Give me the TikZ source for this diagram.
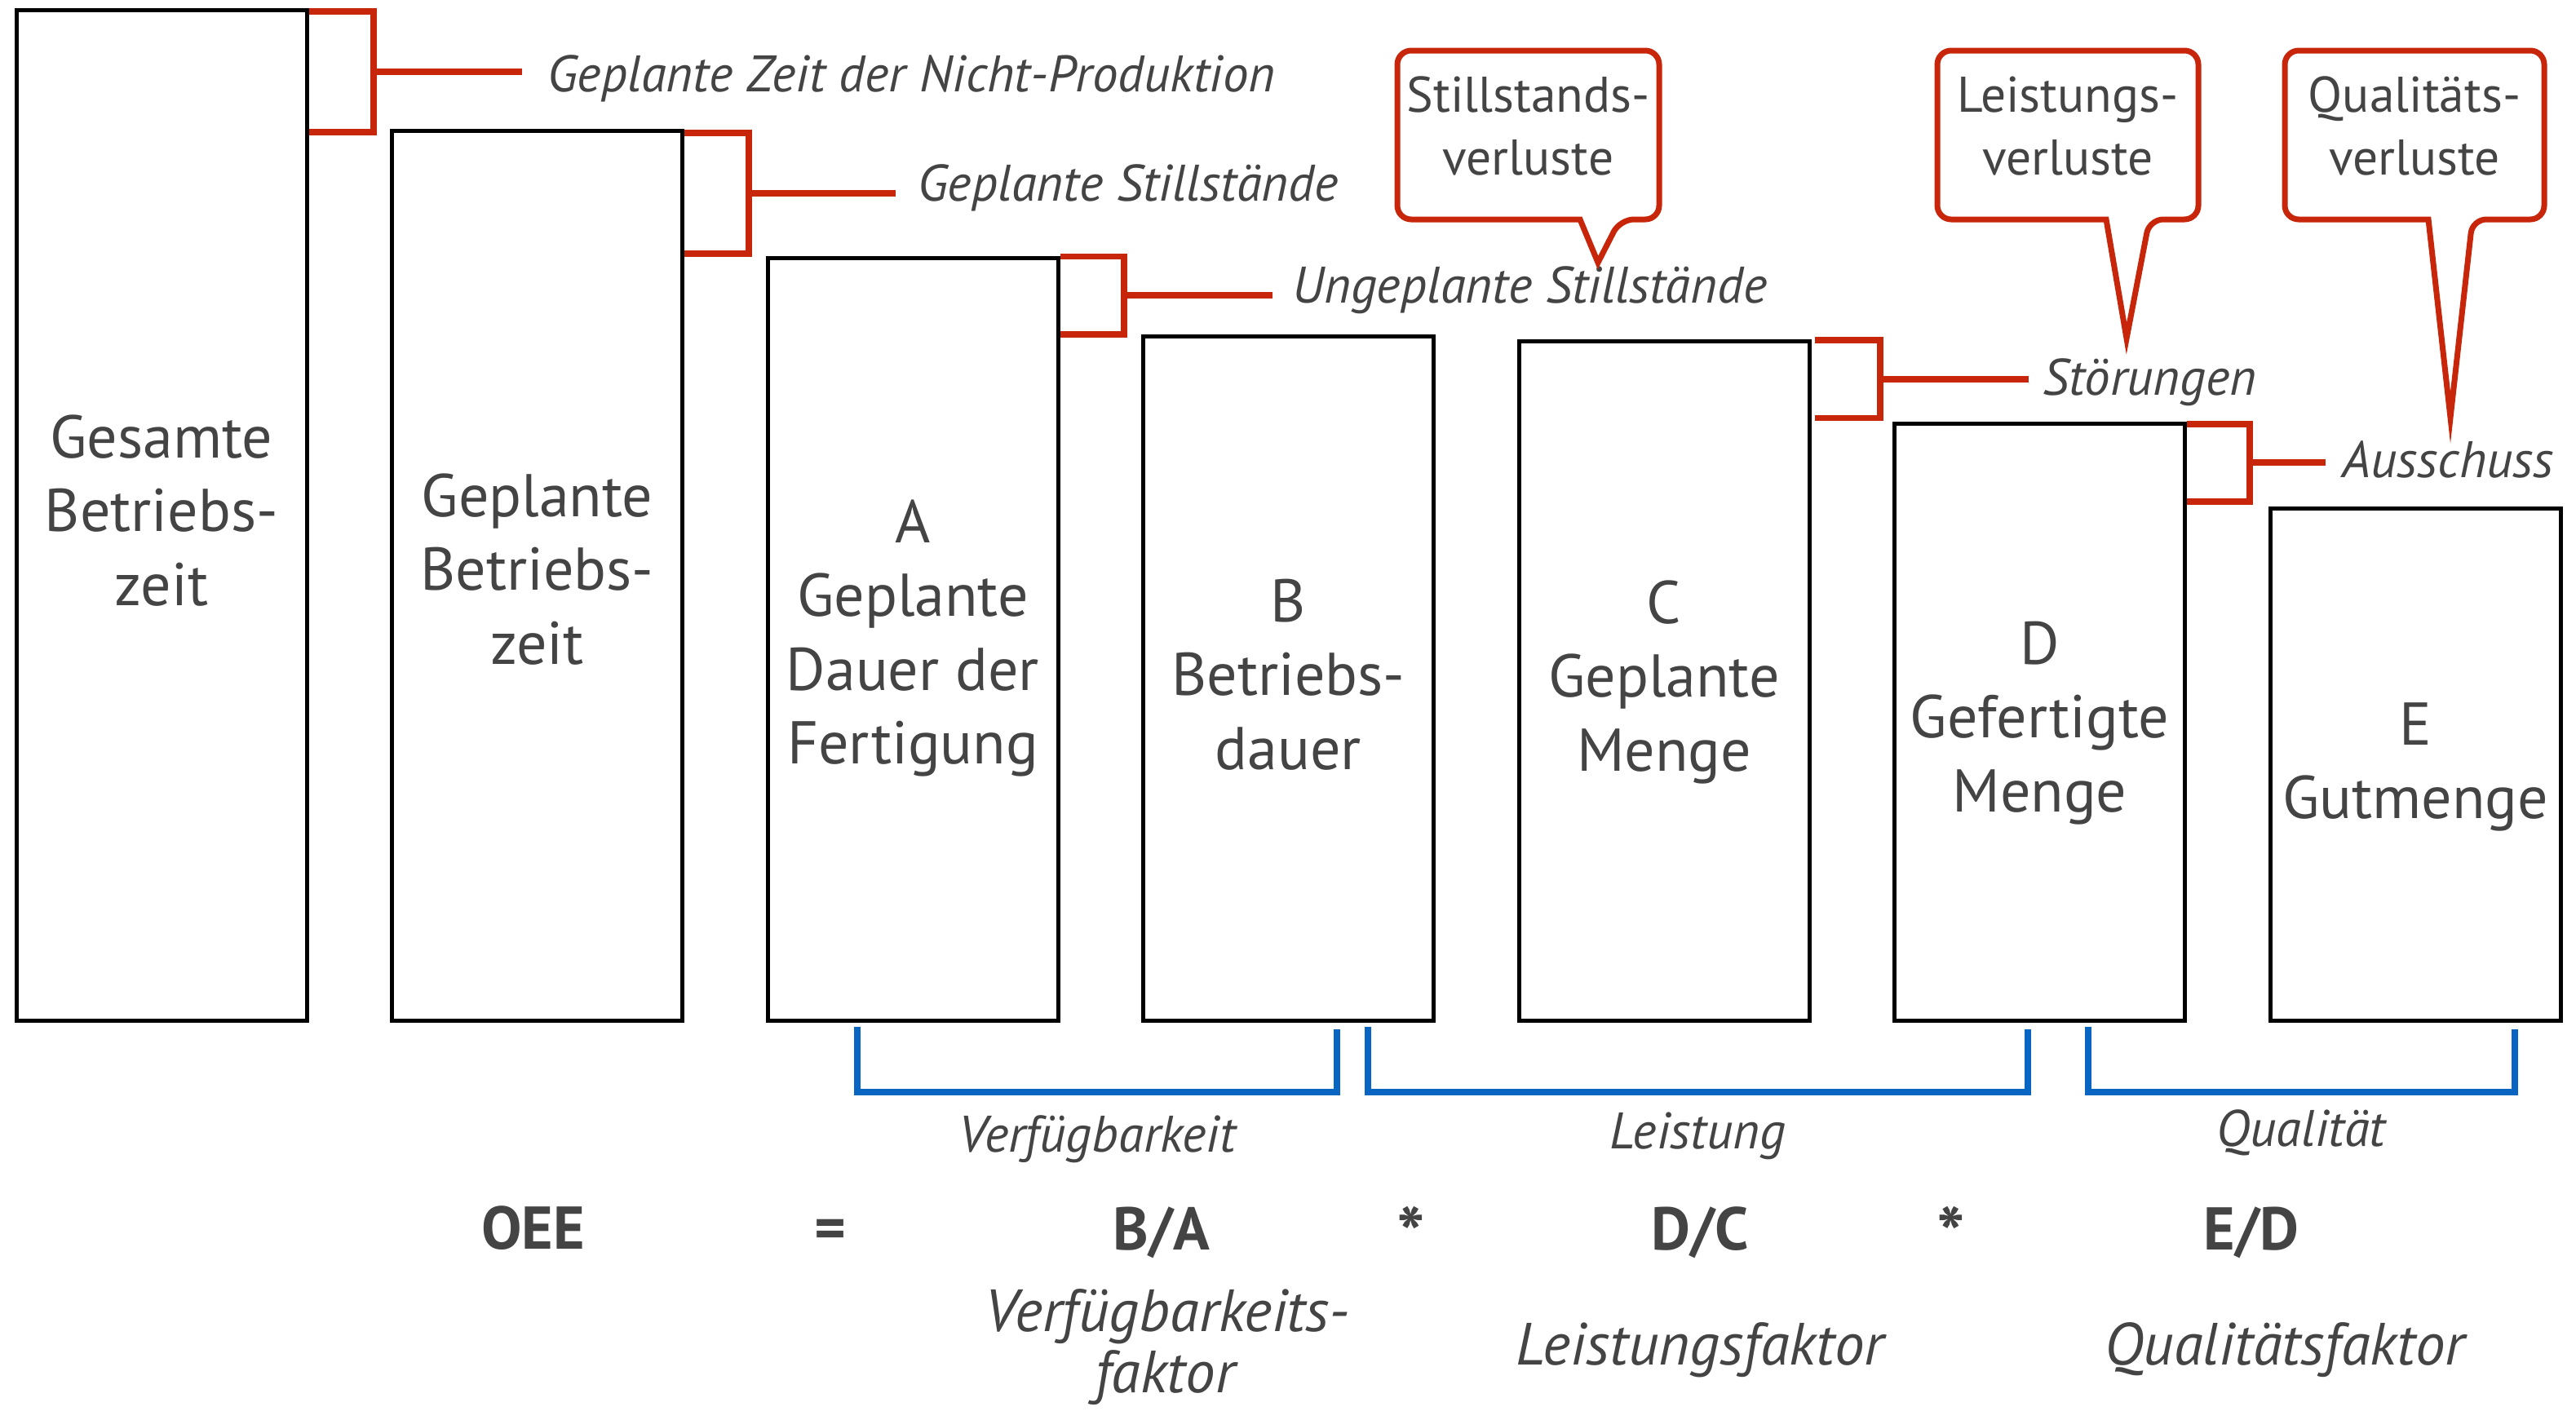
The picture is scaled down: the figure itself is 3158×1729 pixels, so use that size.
\documentclass[tikz,border=0pt]{standalone}
\usepackage{fontspec}
\setmainfont{PT Sans}
\usetikzlibrary{calc}

\definecolor{ink}{RGB}{68,68,68}
\definecolor{lossred}{RGB}{200,38,10}
\definecolor{factorblue}{RGB}{8,102,194}

\newcommand{\fsz}[2]{\fontsize{#1pt}{#2pt}\selectfont}
\newcommand{\lines}[1]{\begin{tabular}[t]{@{}c@{}}#1\end{tabular}}

\begin{document}
\begin{tikzpicture}[x=1pt,y=-1pt,
  bar/.style={draw=black, line width=5pt, fill=white, rectangle,
    anchor=north west, inner sep=0pt, outer sep=0pt, minimum width=356pt},
  barlabel/.style={text=ink, anchor=base, inner sep=0pt, font=\fsz{74}{90.6}},
  lossline/.style={draw=lossred, line width=7.5pt, line join=miter},
  losslabel/.style={text=ink, anchor=base west, inner sep=0pt, font=\fsz{63}{76}\itshape},
  callout/.style={draw=lossred, fill=white, line width=7pt, line join=miter},
  callouttext/.style={text=ink, anchor=base, inner sep=0pt, font=\fsz{61.5}{77}},
  factorline/.style={draw=factorblue, line width=7.5pt, line join=miter},
  factorlabel/.style={text=ink, anchor=base, inner sep=0pt, font=\fsz{63}{76}\itshape},
  formula/.style={text=ink, anchor=base, inner sep=0pt, font=\fsz{74}{88}\bfseries},
  times/.style={text=ink, anchor=base, inner sep=0pt, font=\fsz{92}{100}\bfseries},
  factorname/.style={text=ink, anchor=base, inner sep=0pt, font=\fsz{73}{87}\itshape}
]
\useasboundingbox (0,0) rectangle (3158,1729);

% the seven bars
\node[bar, minimum height=1239pt]   (b1) at (20,12.5) {};
\node[bar, minimum height=1091pt]   (b2) at (480.5,160.5) {};
\node[bar, minimum height=935pt]    (b3) at (941,316.5) {};
\node[bar, minimum height=839.5pt]  (b4) at (1401.5,412) {};
\node[bar, minimum height=833.5pt]  (b5) at (1862,418) {};
\node[bar, minimum height=732.5pt]  (b6) at (2322.5,519) {};
\node[bar, minimum height=628.5pt]  (b7) at (2783,623) {};

\node[barlabel] (t1) at (198,561)    {\lines{Gesamte\\Betriebs-\\zeit}};
\node[barlabel] (t2) at (658.5,633)  {\lines{Geplante\\Betriebs-\\zeit}};
\node[barlabel] (t3) at (1119,665)   {\lines{A\\Geplante\\Dauer der\\Fertigung}};
\node[barlabel] (t4) at (1579.5,762) {\lines{B\\Betriebs-\\dauer}};
\node[barlabel] (t5) at (2040,764)   {\lines{C\\Geplante\\Menge}};
\node[barlabel] (t6) at (2500.5,814) {\lines{D\\Gefertigte\\Menge}};
\node[barlabel] (t7) at (2961,913)   {\lines{E\\Gutmenge}};

% loss labels
\node[losslabel] (l1) at (671,112)  {Geplante Zeit der Nicht-Produktion};
\node[losslabel] (l2) at (1125,246) {Geplante Stillstände};
\node[losslabel] (l3) at (1584,371) {Ungeplante Stillstände};
\node[losslabel] (l4) at (2504,484) {Störungen};
\node[losslabel] (l5) at (2871,585) {Ausschuss};

% red brackets: start x / bracket x / top / bottom / middle / stub end
\foreach \n/\xs/\xv/\yt/\yb/\ym/\xe in {
  1/378.5/458/14/162/88/640,
  2/839/918/163/311/237/1098,
  3/1299.5/1378/314.5/410/362/1560,
  4/2225/2305/417/512.5/465/2487,
  5/2681/2758/520/615/567/2851}{
  \draw[lossline] (\xs,\yt) -- (\xv,\yt) -- (\xv,\yb) -- (\xs,\yb);
  \coordinate (s\n) at (\xv,\ym);
  \coordinate (e\n) at (\xe,\ym);
  \draw[lossline] (s\n) -- (e\n);
}

% callouts: left / right / pointer base left / pointer base right / tip
\foreach \n/\xl/\xr/\pl/\pr/\tx/\ty in {
  1/1713/2034/1937/1986/1959/322,
  2/2375/2695/2582/2635/2607/415,
  3/2801/3119/2977/3031/3004/512}{
  \coordinate (tip\n) at (\tx,\ty);
  \draw[callout] (\pl,269) [rounded corners=17pt] -- (\xl,269) -- (\xl,62)
    -- (\xr,62) -- (\xr,269) -- (\pr,269) [sharp corners] -- (tip\n) -- cycle;
}
\node[callouttext] (c1) at (1873.5,137) {\lines{Stillstands-\\verluste}};
\node[callouttext] (c2) at (2535,137)   {\lines{Leistungs-\\verluste}};
\node[callouttext] (c3) at (2960,137)   {\lines{Qualitäts-\\verluste}};

% blue brackets under the bars
\coordinate (f1a) at (1051,1259); \coordinate (f1b) at (1639,1262);
\coordinate (f2a) at (1677,1259); \coordinate (f2b) at (2486,1262);
\coordinate (f3a) at (2560,1259); \coordinate (f3b) at (3083,1262);
\draw[factorline] (f1a) |- (1639,1339) -- (f1b);
\draw[factorline] (f2a) |- (2486,1339) -- (f2b);
\draw[factorline] (f3a) |- (3083,1339) -- (f3b);

\node[factorlabel] (v1) at (1345,1412) {Verfügbarkeit};
\node[factorlabel] (v2) at (2081,1408) {Leistung};
\node[factorlabel] (v3) at (2821,1405) {Qualität};

% formula row
\node[formula] (oee) at (653.5,1531) {OEE};
\node[formula] (eq)  at (1018,1531)  {=};
\node[formula] (ba)  at (1424,1532)  {B/A};
\node[times]   (m1)  at (1730,1546)  {*};
\node[formula] (dc)  at (2084,1532)  {D/C};
\node[times]   (m2)  at (2392,1546)  {*};
\node[formula] (ed)  at (2760,1532)  {E/D};

\node[factorname] (n1)  at (1431,1632) {Verfügbarkeits-};
\node[factorname] (n1b) at (1428,1707) {faktor};
\node[factorname] (n2)  at (2084,1673) {Leistungsfaktor};
\node[factorname] (n3)  at (2801,1673) {Qualitätsfaktor};
\end{tikzpicture}
\end{document}
